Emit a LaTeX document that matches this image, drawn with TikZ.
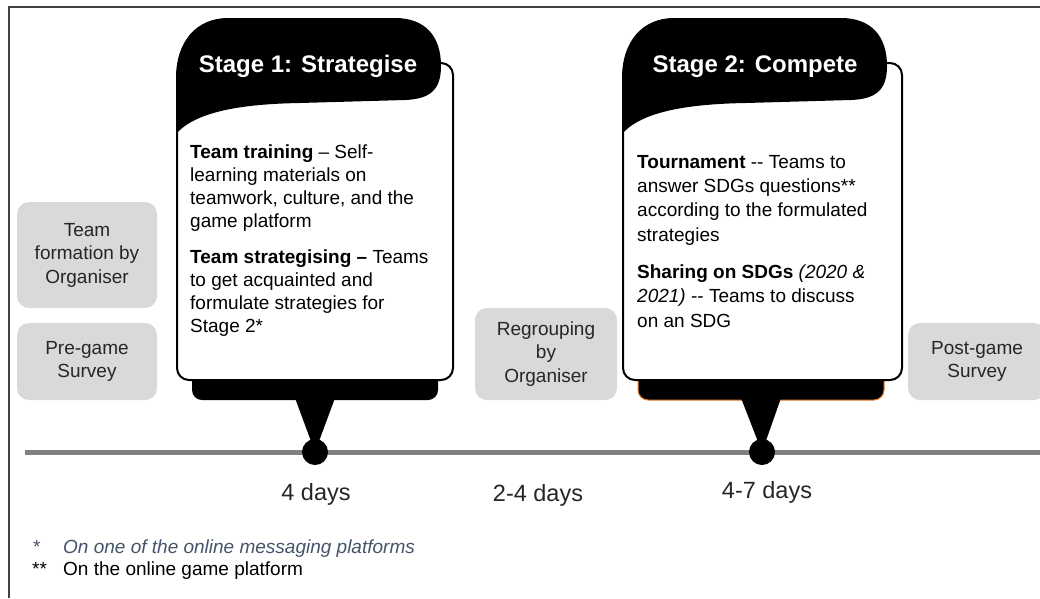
\documentclass[tikz,border=0pt]{standalone}
\usepackage{fontspec}
\setmainfont{Liberation Sans}
\usepackage{tikz}
\usetikzlibrary{calc}

\definecolor{boxgray}{HTML}{D9D9D9}
\definecolor{linegray}{HTML}{808080}
\definecolor{notecolor}{HTML}{44546A}
\definecolor{bandorange}{HTML}{ED7D31}

\tikzset{
	phase/.style={fill=boxgray, rounded corners=12pt, align=center, inner sep=0pt, text=black!85, font=\fontsize{19}{23.5}\selectfont},
	stagetitle/.style={anchor=base, text=white, font=\fontsize{24}{28}\selectfont\bfseries},
	%placed at the baseline of the last line
	stagetext/.style={anchor=base west, align=left, inner sep=0pt, font=\fontsize{19}{22.7}\selectfont},
	milestone/.style={circle, fill=black, minimum size=26pt, inner sep=0pt},
	duration/.style={anchor=base, font=\fontsize{23.5}{28}\selectfont, text=black!85},
	note/.style={anchor=base west, inner sep=0pt, font=\fontsize{19}{22}\selectfont},
}

\begin{document}
\begin{tikzpicture}[x=1pt,y=-1pt]
	\useasboundingbox (0,0) rectangle (1040,598);
	% frame
	\draw[line width=2pt, black!75] (9,598) -- (9,7) -- (1040,7);
	% timeline
	\coordinate (tl-start) at (25,452);
	\coordinate (tl-end) at (1040,452);
	\draw[line width=5pt, linegray] (tl-start) -- (tl-end);
	\node[milestone] (m1) at (315,452) {};
	\node[milestone] (m2) at (762,452) {};
	
	% grey phases
	\node[phase, minimum width=140pt, minimum height=106pt] (form) at (87,255) {Team\\formation by\\Organiser};
	\node[phase, minimum width=140pt, minimum height=77pt] (pregame) at (87,361.5) {Pre-game\\Survey};
	\node[phase, minimum width=142pt, minimum height=92pt] (regroup) at (546,354) {Regrouping\\by\\Organiser};
	\node[phase, minimum width=138pt, minimum height=77pt] (postgame) at (977,361.5) {Post-game\\Survey};
	
	% stage 1
	\fill[rounded corners=10pt] (192,360) rectangle (438,400);
	\fill (295,398) -- (335,398) -- (m1.center) -- cycle;
	\draw[line width=2pt, fill=white, rounded corners=12pt] (177,63) rectangle (453,380);
	\fill (176,134) .. controls (195,112) and (240,104) .. (300,103) -- (405,100) .. controls (432,99) and (441,88) .. (441,66) .. controls (441,36) and (425,18) .. (395,18) -- (228,18) .. controls (196,18) and (176,42) .. (176,78) -- cycle;
	\node[stagetitle] (s1) at (308,72) {Stage 1: Strategise};
	\node[stagetext] (train) at (190,227) {\textbf{Team training} – Self-\\learning materials on\\teamwork, culture, and the\\game platform};
	\node[stagetext] (strat) at (190,332) {\textbf{Team strategising –} Teams\\to get acquainted and\\formulate strategies for\\Stage 2*};
	
	% stage 2
	\filldraw[fill=black, draw=bandorange, line width=1pt, rounded corners=10pt] (638,360) rectangle (884,400);
	\fill (741,398) -- (781,398) -- (m2.center) -- cycle;
	\draw[line width=2pt, fill=white, rounded corners=12pt] (623,63) rectangle (902,380);
	\fill (622,134) .. controls (641,112) and (686,104) .. (746,103) -- (851,100) .. controls (878,99) and (887,88) .. (887,66) .. controls (887,36) and (871,18) .. (841,18) -- (674,18) .. controls (642,18) and (622,42) .. (622,78) -- cycle;
	\node[stagetitle] (s2) at (755,72) {Stage 2: Compete};
	\node[stagetext, font=\fontsize{19}{24.2}\selectfont] (tourn) at (637,241) {\textbf{Tournament} -{}- Teams to\\answer SDGs questions**\\according to the formulated\\strategies};
	\node[stagetext, font=\fontsize{19}{24.2}\selectfont] (share) at (637,327) {\textbf{Sharing on SDGs} \textit{(2020 \&}\\\textit{2021)} -{}- Teams to discuss\\on an SDG};
	
	% durations
	\node[duration] (dur1) at (316,500) {4 days};
	\node[duration] (dur2) at (538,501) {2-4 days};
	\node[duration] (dur3) at (767,498) {4-7 days};
	
	% notes
	\node[note, text=notecolor] (star1) at (33,553) {*};
	\node[note, text=notecolor, font=\fontsize{19}{22}\selectfont\itshape] (note1) at (63,553) {On one of the online messaging platforms};
	\node[note] (star2) at (32,575) {**};
	\node[note] (note2) at (63,575) {On the online game platform};
\end{tikzpicture}
\end{document}
